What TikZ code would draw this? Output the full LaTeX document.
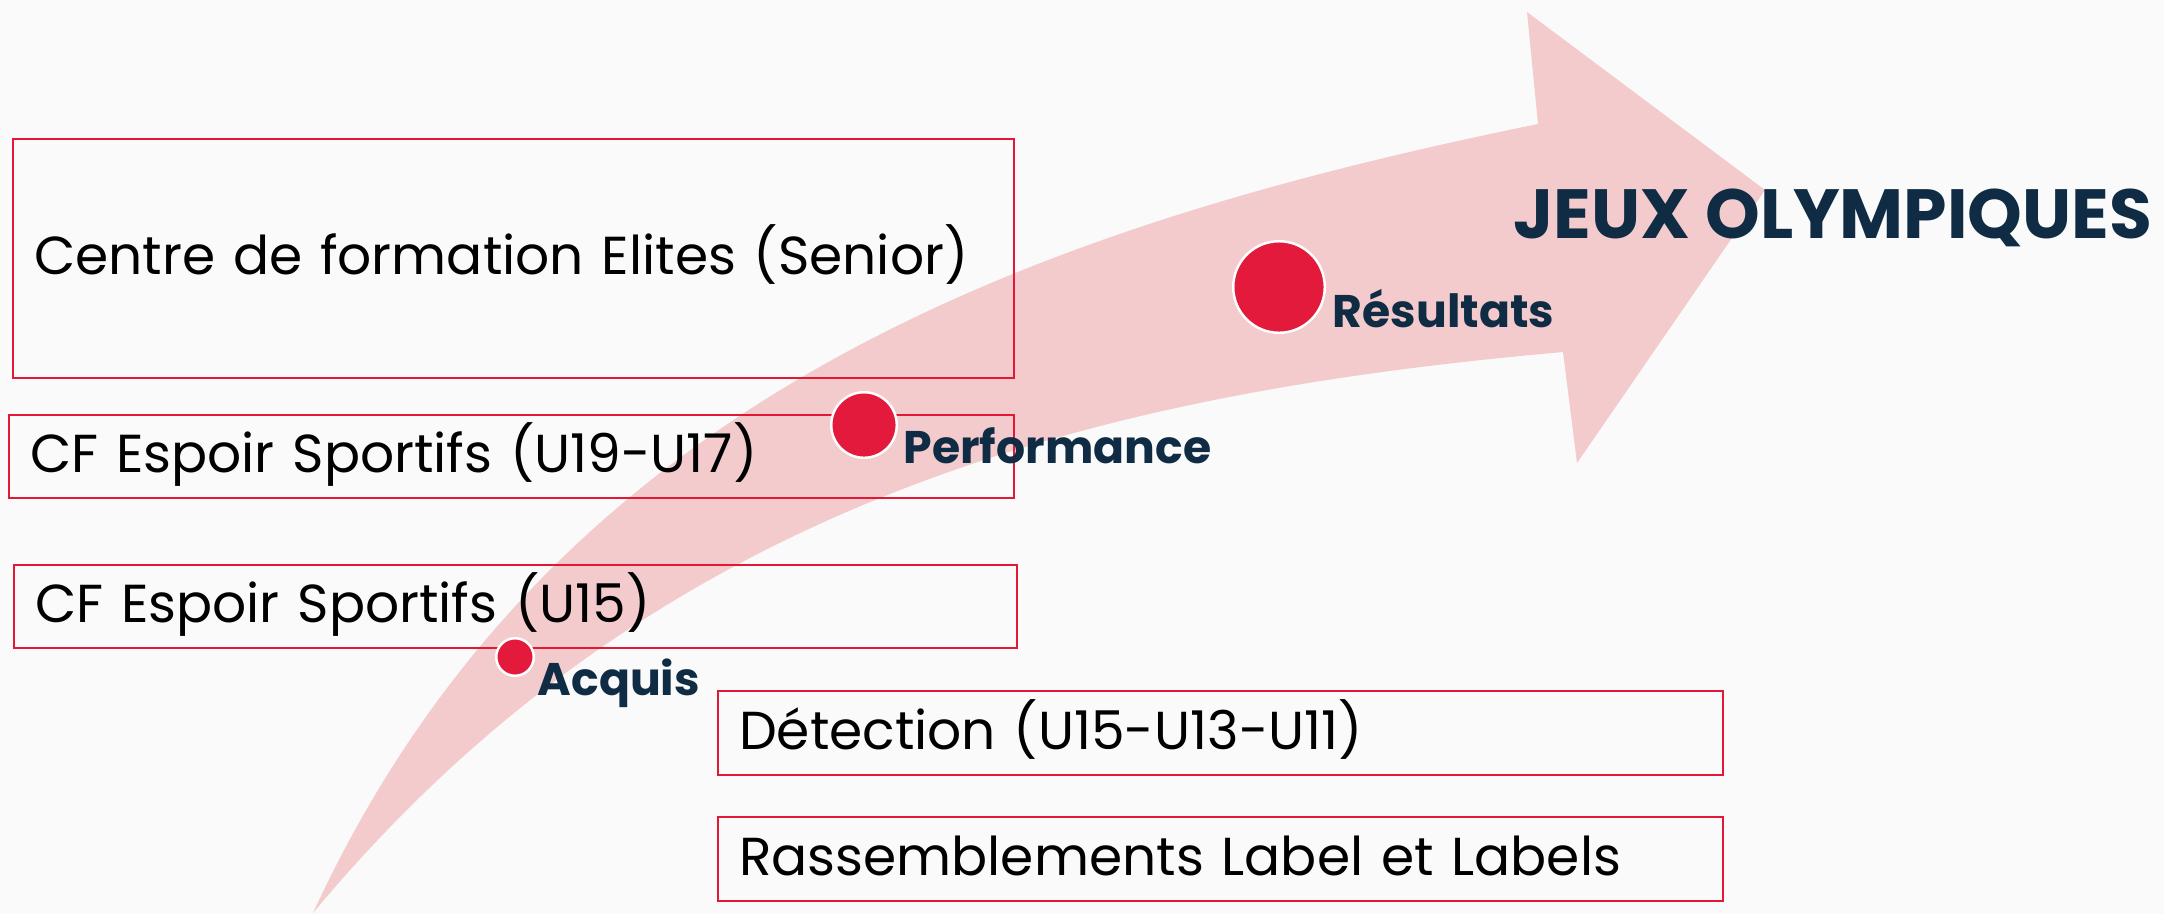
\documentclass[tikz,border=0pt]{standalone}
\usepackage{fontspec}
\setmainfont{Poppins}
\newfontfamily\labelfont{Poppins}
\definecolor{boxred}{RGB}{227,24,55}
\definecolor{dotred}{RGB}{227,26,59}
\definecolor{arrowpink}{RGB}{243,203,205}
\definecolor{navy}{RGB}{15,44,68}
\definecolor{bggray}{RGB}{250,250,250}

\begin{document}
\begin{tikzpicture} [x=0.01cm, y=-0.01cm,
            stage/.style={draw=boxred, line width=0.6pt, anchor=north west, inner xsep=2.1mm, inner ysep=0pt,
                align=left, text height=1.1em, text depth=0.18em, font=\fontsize{15.2}{18}\selectfont},
            dot/.style={circle, fill=dotred, draw=white, line width=0.7pt, inner sep=0pt},
            tag/.style={anchor=base west, inner sep=0pt, text=navy, font=\labelfont\bfseries\fontsize{13}{15}\selectfont}]
            \fill[bggray] (0,0) rectangle (2164,914);

            \fill[arrowpink] (313,913) .. controls (548,403) and (1022,229) .. (1538,124)
                -- (1527,12) -- (1765,190) -- (1577,463) -- (1563,352)
                .. controls (1113,392) and (662,493) .. (313,913) -- cycle;

            \node[stage, text width=9.58cm, minimum height=2.39cm] (elite)  at (12,138)  {Centre de formation Elites (Senior)};
            \node[stage, text width=9.62cm, minimum height=0.83cm] (u19)    at (8,414)   {CF Espoir Sportifs (U19-U17)};
            \node[stage, text width=9.60cm, minimum height=0.83cm] (u15)    at (13,564)  {CF Espoir Sportifs (U15)};
            \node[stage, text width=9.62cm, minimum height=0.84cm] (detect) at (717,690) {Détection (U15-U13-U11)};
            \node[stage, text width=9.62cm, minimum height=0.84cm] (rally)  at (717,816) {Rassemblements Label et Labels};

            \node[dot, minimum size=0.375cm] (acq)  at (515,657)  {};
            \node[dot, minimum size=0.655cm] (perf) at (864,425)  {};
            \node[dot, minimum size=0.915cm] (res)  at (1279,287) {};

            \node[tag] (acqtag)  at (537,695)  {Acquis};
            \node[tag] (perftag) at (903,463)  {Performance};
            \node[tag] (restag)  at (1332,327) {Résultats};
            \node[tag, font=\labelfont\bfseries\fontsize{19.8}{23}\selectfont] (jo) at (1513,238) {JEUX OLYMPIQUES};
\end{tikzpicture}
\end{document}
